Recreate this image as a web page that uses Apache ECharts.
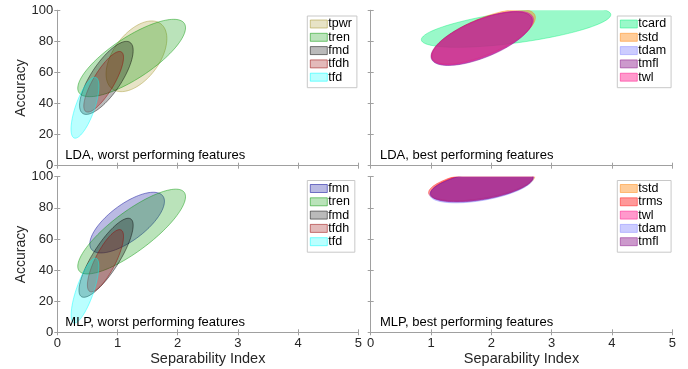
<!DOCTYPE html>
<html>
<head>
<meta charset="utf-8">
<script src="https://cdn.jsdelivr.net/npm/echarts@6/dist/echarts.min.js"></script>
<style>
html,body{margin:0;padding:0;background:#fff;}
#chart{width:688px;height:369px;}
</style>
</head>
<body>
<div id="chart"></div>
<script>
// ---- Data: each ellipse = [centerX, centerY, halfRangeX, halfRangeY, correlation] ----
const xTicks = [0, 1, 2, 3, 4, 5];
const yTicks = [0, 20, 40, 60, 80, 100];

const ldaWorstNames = ['tpwr', 'tren', 'fmd', 'tfdh', 'tfd'];
const ldaWorstEllipses = [
  [1.315, 70.4, 0.505, 22.75, 0.50],
  [1.235, 69.3, 0.895, 24.9, 0.78],
  [0.815, 56.5, 0.445, 23.5, 0.75],
  [0.77, 54.0, 0.33, 19.5, 0.80],
  [0.46, 37.3, 0.232, 19.6, 0.70]
];

const ldaBestNames = ['tcard', 'tstd', 'tdam', 'tmfl', 'twl'];
const ldaBestEllipses = [
  [2.41, 89.15, 1.57, 12.95, 0.62],
  [1.87, 83.0, 0.86, 17.6, 0.70],
  [1.85, 82.0, 0.84, 17.3, 0.68],
  [1.84, 81.8, 0.84, 17.3, 0.66],
  [1.855, 82.2, 0.845, 17.2, 0.68]
];

const mlpWorstNames = ['fmn', 'tren', 'fmd', 'tfdh', 'tfd'];
const mlpWorstEllipses = [
  [1.16, 70.5, 0.62, 19.5, 0.70],
  [1.235, 64.75, 0.895, 27.25, 0.82],
  [0.81, 47.9, 0.45, 25.4, 0.82],
  [0.80, 46.0, 0.30, 20.0, 0.78],
  [0.46, 26.8, 0.23, 20.8, 0.75]
];

const mlpBestNames = ['tstd', 'trms', 'twl', 'tdam', 'tmfl'];
const mlpBestEllipses = [
  [1.86, 95.0, 0.86, 10.5, 0.50],
  [1.83, 95.0, 0.87, 10.5, 0.50],
  [1.84, 94.5, 0.85, 10.5, 0.50],
  [1.84, 94.0, 0.86, 10.8, 0.50],
  [1.84, 94.3, 0.85, 10.5, 0.49]
];

const panelTitles = ['LDA, worst performing features', 'LDA, best performing features',
                     'MLP, worst performing features', 'MLP, best performing features'];

// ---- Styles ----
const baseColors = {
  tpwr: [165, 150, 45], tren: [0, 150, 0], fmd: [0, 0, 0], tfdh: [150, 0, 0], tfd: [0, 255, 255],
  fmn: [0, 0, 150], tcard: [0, 240, 120], tstd: [255, 128, 0], tdam: [128, 128, 255],
  tmfl: [128, 0, 128], twl: [255, 0, 128], trms: [255, 0, 0]
};
const FONT = '"Liberation Sans", Arial, Helvetica, sans-serif';
function rgba(c, a) { return 'rgba(' + c[0] + ',' + c[1] + ',' + c[2] + ',' + a + ')'; }

const grids = [
  {left: 57.3, top: 10.3, width: 301, height: 155.4},
  {left: 370.7, top: 10.3, width: 301.6, height: 155.4},
  {left: 57.3, top: 176.7, width: 301, height: 155.6},
  {left: 370.7, top: 176.7, width: 301.6, height: 155.6}
];
const panels = [
  {names: ldaWorstNames, ell: ldaWorstEllipses, fillA: 0.27, strokeA: 0.5},
  {names: ldaBestNames, ell: ldaBestEllipses, fillA: 0.4, strokeA: 0.45},
  {names: mlpWorstNames, ell: mlpWorstEllipses, fillA: 0.27, strokeA: 0.5},
  {names: mlpBestNames, ell: mlpBestEllipses, fillA: 0.4, strokeA: 0.45}
];

const axisColor = '#a0a0a0';
const xAxes = [], yAxes = [], series = [], legends = [], graphics = [];

grids.forEach((g, i) => {
  const isBottom = i >= 2, isLeft = i % 2 === 0;
  const common = {
    min: xTicks[0], max: xTicks[xTicks.length - 1], interval: 1, gridIndex: i,
    axisLine: {show: true, lineStyle: {color: axisColor, width: 1}},
    axisTick: {show: true, inside: true, length: 3, lineStyle: {color: axisColor}},
    splitLine: {show: false}
  };
  xAxes.push(Object.assign({}, common, {
    type: 'value', position: 'bottom',
    axisLabel: {show: isBottom, color: '#262626', fontSize: 13, fontFamily: FONT, margin: 5},
    name: isBottom ? 'Separability Index' : '', nameLocation: 'middle', nameGap: 18,
    nameTextStyle: {color: '#262626', fontSize: 14.5, fontFamily: FONT}
  }));
  xAxes.push(Object.assign({}, common, {
    type: 'value', position: 'top', axisLabel: {show: false}
  }));
  const ycommon = {
    min: yTicks[0], max: yTicks[yTicks.length - 1], interval: 20, gridIndex: i,
    axisLine: {show: true, lineStyle: {color: axisColor, width: 1}},
    axisTick: {show: true, inside: true, length: 3, lineStyle: {color: axisColor}},
    splitLine: {show: false}
  };
  yAxes.push(Object.assign({}, ycommon, {
    type: 'value', position: 'left',
    axisLabel: {show: isLeft, color: '#262626', fontSize: 13, fontFamily: FONT, margin: 4},
    name: isLeft ? 'Accuracy' : '', nameLocation: 'middle', nameGap: 26,
    nameTextStyle: {color: '#262626', fontSize: 14, fontFamily: FONT}
  }));
  yAxes.push(Object.assign({}, ycommon, {
    type: 'value', position: 'right', axisLabel: {show: false}
  }));

  const p = panels[i];
  p.names.forEach((nm, k) => {
    const c = baseColors[nm];
    const fill = rgba(c, p.fillA), stroke = rgba(c, p.strokeA);
    series.push({
      type: 'custom', name: nm, xAxisIndex: 2 * i, yAxisIndex: 2 * i, clip: true,
      dimensions: ['cx', 'cy', 'sx', 'sy', 'rho'], encode: {x: 0, y: 1},
      itemStyle: {color: fill, borderColor: stroke},
      silent: true,
      data: [p.ell[k]],
      renderItem: function (params, api) {
        const cx = api.value(0), cy = api.value(1), sx = api.value(2), sy = api.value(3), r = api.value(4);
        const q = Math.sqrt(1 - r * r);
        const pts = [];
        for (let n = 0; n < 120; n++) {
          const t = 2 * Math.PI * n / 120;
          pts.push(api.coord([cx + sx * Math.cos(t), cy + sy * (r * Math.cos(t) + q * Math.sin(t))]));
        }
        return {type: 'polygon', shape: {points: pts}, style: {fill: fill, stroke: stroke, lineWidth: 0.9}};
      }
    });
  });

  legends.push({
    show: true, orient: 'vertical', selectedMode: false,
    left: isLeft ? 307.3 : 617.3, top: i < 2 ? 16 : 180.5,
    icon: 'rect', itemWidth: 17, itemHeight: 8, itemGap: 0.3,
    padding: [1.5, 5, 4, 2.5],
    borderColor: '#c8c8c8', borderWidth: 1, backgroundColor: '#fff',
    textStyle: {color: '#000', fontSize: 12.5, fontFamily: FONT, lineHeight: 12, padding: [0, 0, 0, -4]},
    data: p.names.map(nm => ({
      name: nm,
      itemStyle: {color: rgba(baseColors[nm], p.fillA), borderColor: rgba(baseColors[nm], p.strokeA), borderWidth: 1}
    }))
  });

  graphics.push({
    type: 'text', z: 100,
    style: {
      x: g.left + (isLeft ? 8 : 9.3), y: g.top + g.height - (i < 2 ? 10.5 : 10.2),
      text: panelTitles[i], fill: '#000',
      font: '13px ' + FONT, textVerticalAlign: 'middle'
    }
  });
});

const chart = echarts.init(document.getElementById('chart'), null, {renderer: 'canvas'});
chart.setOption({
  animation: false,
  backgroundColor: '#fff',
  grid: grids.map(g => Object.assign({show: false}, g)),
  xAxis: xAxes,
  yAxis: yAxes,
  legend: legends,
  series: series,
  graphic: graphics
});
</script>
</body>
</html>
